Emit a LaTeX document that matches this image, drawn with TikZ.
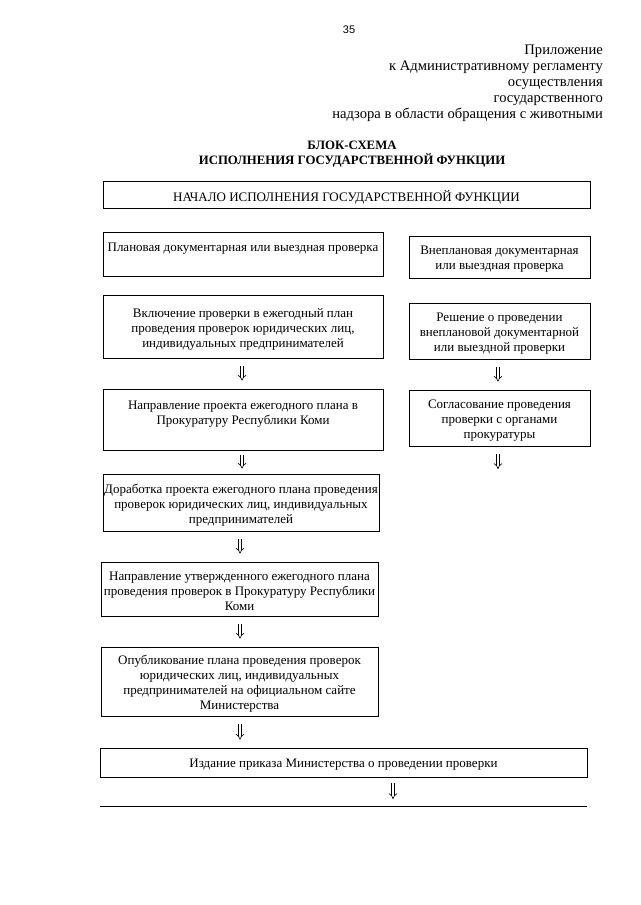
\documentclass[tikz,border=0pt]{standalone}
\usepackage{fontspec}
\setmainfont{Liberation Serif}
\newfontfamily\sansf{Liberation Sans}
\usetikzlibrary{arrows.meta}
\newcommand\flowbox[5]{%
  \node[box, minimum width=#3, minimum height=#4] (#1) at #2 {};
  \node[boxtext] (#1-t) at (#1.center) {#5};}
\begin{document}
\begin{tikzpicture}[x=1pt,y=-1pt,
  box/.style={draw, line width=0.7pt, inner sep=0pt},
  boxtext/.style={align=center, font=\fontsize{13}{15}\selectfont, inner sep=0pt, yshift=-2.5pt},
  dbl/.style={double, double distance=2.4pt, line width=0.6pt, -{Implies}, shorten <=8pt, shorten >=8pt}
]
\useasboundingbox (0,0) rectangle (640,905);
% header
\node[font=\sansf\fontsize{11}{12}\selectfont, inner sep=0] (page) at (349,30) {35};
\node[anchor=north east, align=right, font=\fontsize{14.6}{16}\selectfont, inner sep=0] (hdr) at (603,45)
  {Приложение\\к Административному регламенту\\осуществления\\государственного\\надзора в области обращения с животными};
\node[align=center, font=\bfseries\fontsize{12.8}{15}\selectfont, inner sep=0] (title) at (352,154)
  {БЛОК-СХЕМА\\ИСПОЛНЕНИЯ ГОСУДАРСТВЕННОЙ ФУНКЦИИ};
% boxes
\flowbox{start}{(346.5,194.5)}{487pt}{27pt}{НАЧАЛО ИСПОЛНЕНИЯ ГОСУДАРСТВЕННОЙ ФУНКЦИИ}
\flowbox{plan}{(243,254)}{280pt}{44pt}{Плановая документарная или выездная проверка\\ \strut}
\flowbox{vneplan}{(499.5,257)}{181pt}{42pt}{Внеплановая документарная\\или выездная проверка}
\flowbox{vkl}{(243,326.5)}{280pt}{63pt}{Включение проверки в ежегодный план\\проведения проверок юридических лиц,\\индивидуальных предпринимателей}
\flowbox{resh}{(499.5,331)}{181pt}{56pt}{Решение о проведении\\внеплановой документарной\\или выездной проверки}
\flowbox{napr}{(243,419.5)}{280pt}{61pt}{Направление проекта ежегодного плана в\\Прокуратуру Республики Коми\\ \strut}
\flowbox{sogl}{(499.5,418)}{181pt}{56pt}{Согласование проведения\\проверки с органами\\прокуратуры}
\flowbox{dorab}{(241,502.5)}{276pt}{57pt}{Доработка проекта ежегодного плана проведения\\проверок юридических лиц, индивидуальных\\предпринимателей}
\flowbox{naprutv}{(239.5,589)}{277pt}{54pt}{Направление утвержденного ежегодного плана\\проведения проверок в Прокуратуру Республики\\Коми}
\flowbox{opubl}{(239.5,681.5)}{277pt}{69pt}{Опубликование плана проведения проверок\\юридических лиц, индивидуальных\\предпринимателей на официальном сайте\\Министерства}
\flowbox{izd}{(343.5,762.5)}{487pt}{29pt}{Издание приказа Министерства о проведении проверки}
% bottom line
\coordinate (L1) at (100,806);
\coordinate (L2) at (587,806);
\draw[line width=0.7pt] (L1) -- (L2);
% arrows
\coordinate (lxa) at (242,0);
\coordinate (lxb) at (240,0);
\coordinate (rx) at (498,0);
\coordinate (bx) at (393,0);
\coordinate (sendR) at (498,477);
\draw[dbl] (vkl.south -| lxa) -- (napr.north -| lxa);
\draw[dbl, shorten <=5pt, shorten >=5pt] (napr.south -| lxa) -- (dorab.north -| lxa);
\draw[dbl] (dorab.south -| lxb) -- (naprutv.north -| lxb);
\draw[dbl] (naprutv.south -| lxb) -- (opubl.north -| lxb);
\draw[dbl] (opubl.south -| lxb) -- (izd.north -| lxb);
\draw[dbl] (resh.south -| rx) -- (sogl.north -| rx);
\draw[dbl] (sogl.south -| rx) -- (sendR);
\draw[dbl, shorten <=6pt, shorten >=7pt] (izd.south -| bx) -- (bx |- L1);
\end{tikzpicture}
\end{document}
